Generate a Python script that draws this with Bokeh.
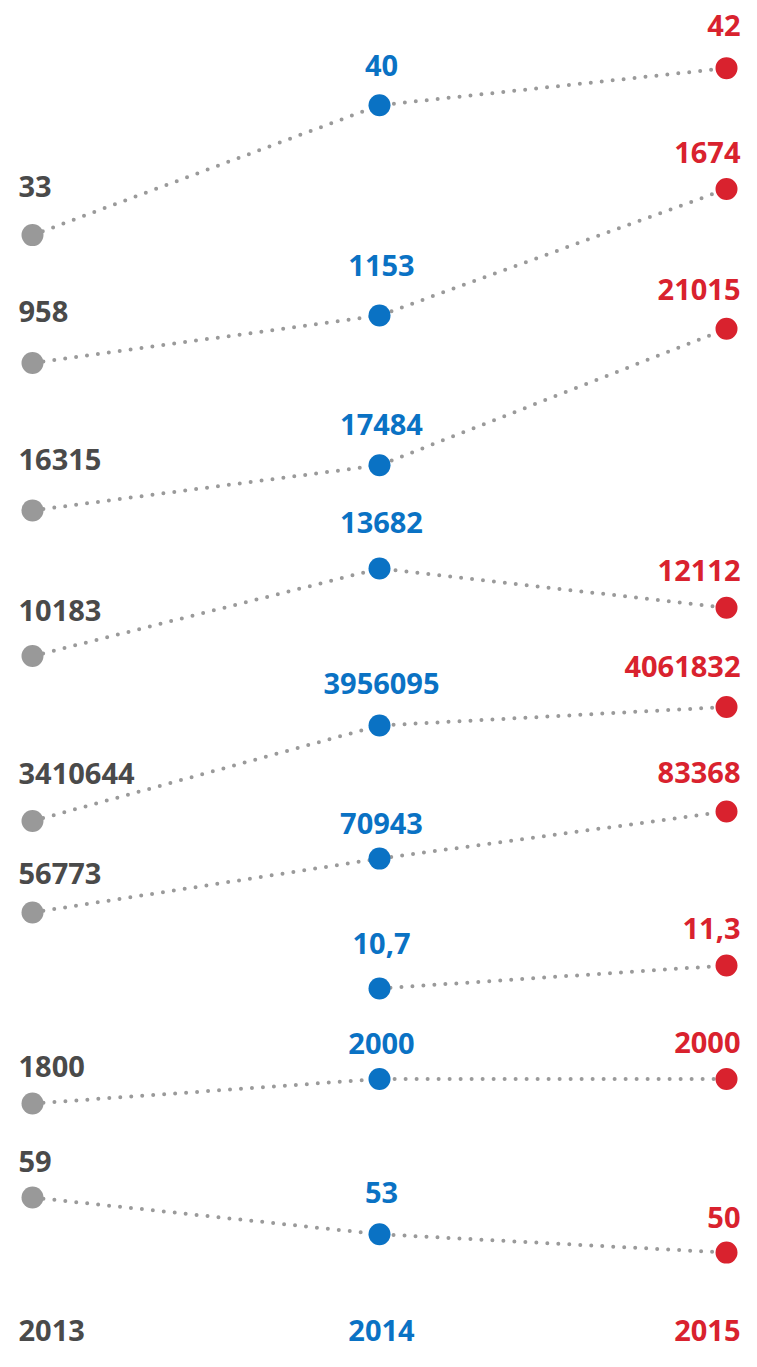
from bokeh.plotting import figure
from bokeh.models import Range1d
from bokeh.core.properties import value
from bokeh.embed import file_html
from bokeh.resources import INLINE

# ---- data ----
years = [2013, 2014, 2015]
v2013 = [33, 958, 16315, 10183, 3410644, 56773, None, 1800, 59]
v2014 = [40, 1153, 17484, 13682, 3956095, 70943, 10.7, 2000, 53]
v2015 = [42, 1674, 21015, 12112, 4061832, 83368, 11.3, 2000, 50]
year_labels = ["2013", "2014", "2015"]

# ---- layout (per-row value ranges and label offsets, px above dot) ----
row_ranges = [(-27.176, 45.646), (-3112.6, 2450.3), (-5454, 29512),
              (-17610, 36385), (379754, 8098060), (-58831, 296883),
              (1.230, 36.474), (-224.5, 10804.1), (33.84, 254.63)]
off2013 = [39, 41, 41, 36, 37, 29, 0, 27, 26]
off2014 = [30, 40, 31, 36, 32, 25, 35, 25, 32]
off2015 = [33, 27, 29, 27, 30, 29, 27, 26, 25]
BASE_FIX = 10

W, H = 741, 1351
GREY, BLUE, RED = "#999999", "#0a72c4", "#d9222e"
TGREY = "#4a4a4a"
LINE = "#9a9a9a"
FONT = value("Open Sans")
FS = "29px"


def fmt(v):
    if float(v).is_integer():
        return str(int(v))
    return str(v).replace(".", ",")


p = figure(width=W, height=H, x_range=Range1d(2012.9078, 2015.0432),
           y_range=Range1d(0, H), output_backend="svg", toolbar_location=None,
           x_axis_location=None, y_axis_location=None, min_border=0,
           background_fill_color="white", border_fill_color="white")
p.grid.visible = False
p.outline_line_color = None
p.extra_y_ranges = {f"r{i}": Range1d(s, e) for i, (s, e) in enumerate(row_ranges)}

cols = [(v2013, GREY, TGREY, off2013, "left", -14),
        (v2014, BLUE, BLUE, off2014, "center", 2),
        (v2015, RED, RED, off2015, "right", 14)]

# lines
for i in range(len(v2014)):
    xs, ys = [], []
    for yr, vals in zip(years, [v2013, v2014, v2015]):
        if vals[i] is not None:
            xs.append(yr)
            ys.append(vals[i])
    p.line(xs, ys, y_range_name=f"r{i}", line_color=LINE, line_width=4,
           line_dash="0 11", line_cap="round")

# dots and labels
for i in range(len(v2014)):
    for yr, (vals, dcol, tcol, offs, align, xo) in zip(years, cols):
        v = vals[i]
        if v is None:
            continue
        p.scatter([yr], [v], y_range_name=f"r{i}", size=22, marker="circle",
                  fill_color=dcol, line_color=None)
        p.text([yr], [v], text=[fmt(v)], y_range_name=f"r{i}",
               x_offset=xo, y_offset=-(offs[i] + BASE_FIX), text_align=align,
               text_baseline="alphabetic", text_color=tcol, text_font=FONT,
               text_font_style="bold", text_font_size=FS)

# year labels at bottom
for yr, lab, tcol, align, xo in zip(years, year_labels, [TGREY, BLUE, RED],
                                    ["left", "center", "right"], [-14, 2, 14]):
    p.text([yr], [21], text=[lab], x_offset=xo, text_align=align,
           text_baseline="alphabetic", text_color=tcol, text_font=FONT,
           text_font_style="bold", text_font_size=FS)

open("out.html", "w").write(file_html(p, INLINE))
